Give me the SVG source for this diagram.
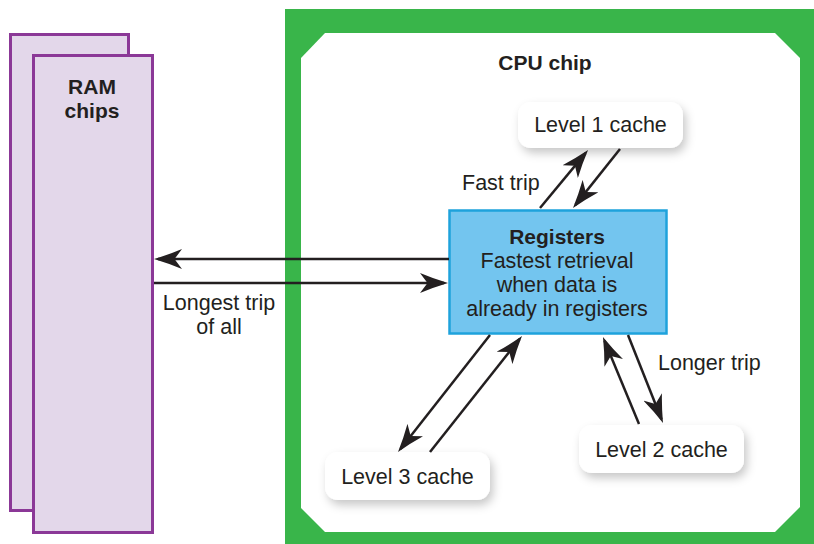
<svg xmlns="http://www.w3.org/2000/svg" width="814" height="544" viewBox="0 0 814 544">
  <style>
    .lbl { font-family: "Liberation Sans", Arial, Helvetica, sans-serif; font-size: 21.5px; fill: #231f20; }
    .bold { font-weight: bold; font-size: 21px; }
    .ram { fill: #e3d7ea; stroke: #8b3897; stroke-width: 3; }
    .cache { fill: #ffffff; filter: url(#soft); }
    .wire { fill: none; stroke: #231f20; stroke-width: 2.5; marker-end: url(#head); }
  </style>
  <defs>
    <filter id="soft" x="-20%" y="-40%" width="150%" height="200%">
      <feDropShadow dx="3" dy="5" stdDeviation="5" flood-color="#000000" flood-opacity="0.22"/>
    </filter>
    <marker id="head" markerUnits="userSpaceOnUse" markerWidth="28" markerHeight="20" viewBox="0 0 28 20" refX="24" refY="10" orient="auto">
      <path d="M28,10 Q13,5.5 0,0 L7.5,10 L0,20 Q13,14.5 28,10 Z" fill="#231f20"/>
    </marker>
  </defs>

  <rect width="814" height="544" fill="#ffffff"/>

  <!-- RAM chips: two stacked modules -->
  <g id="ram">
    <rect class="ram" x="10.5" y="34.5" width="118" height="476"/>
    <rect class="ram" x="33.5" y="55.5" width="119" height="477"/>
    <text class="lbl bold" x="92" y="94" text-anchor="middle">RAM</text>
    <text class="lbl bold" x="92" y="118" text-anchor="middle">chips</text>
  </g>

  <!-- CPU chip outline with chamfered inner field -->
  <g id="cpu">
    <rect x="285" y="9" width="529" height="535" fill="#39b54a"/>
    <polygon points="325,33 775,33 800,58 800,507 775,532 325,532 301,508 301,58" fill="#ffffff"/>
    <text class="lbl bold" x="545" y="70" text-anchor="middle">CPU chip</text>
  </g>

  <g id="l1">
    <rect class="cache" x="518" y="102" width="165" height="46" rx="13"/>
    <text class="lbl" x="600.5" y="132" text-anchor="middle">Level 1 cache</text>
  </g>

  <g id="l2">
    <rect class="cache" x="579" y="425" width="165" height="48" rx="13"/>
    <text class="lbl" x="661.5" y="457" text-anchor="middle">Level 2 cache</text>
  </g>

  <g id="l3">
    <rect class="cache" x="325" y="452" width="165" height="48" rx="13"/>
    <text class="lbl" x="407.5" y="484" text-anchor="middle">Level 3 cache</text>
  </g>

  <g id="registers">
    <rect x="449.5" y="210.5" width="217" height="123" fill="#73c5ef" stroke="#1ea2dc" stroke-width="2.5"/>
    <text class="lbl bold" x="557" y="244" text-anchor="middle">Registers</text>
    <text class="lbl" x="557" y="268" text-anchor="middle">Fastest retrieval</text>
    <text class="lbl" x="557" y="292" text-anchor="middle">when data is</text>
    <text class="lbl" x="557" y="316" text-anchor="middle">already in registers</text>
  </g>

  <!-- data paths between storage levels -->
  <g id="connectors">
    <line class="wire" x1="449" y1="259" x2="158" y2="259"/>
    <line class="wire" x1="154" y1="283" x2="444" y2="283"/>
    <line class="wire" x1="540" y1="208" x2="585.5" y2="153.1"/>
    <line class="wire" x1="620" y1="149" x2="575.5" y2="204.9"/>
    <line class="wire" x1="490" y1="335" x2="400.5" y2="448.9"/>
    <line class="wire" x1="430" y1="452" x2="519.5" y2="339.1"/>
    <line class="wire" x1="639" y1="424" x2="604.5" y2="340.7"/>
    <line class="wire" x1="628" y1="335" x2="661.5" y2="419.3"/>
  </g>

  <g id="trip-labels">
    <text class="lbl" x="462" y="190">Fast trip</text>
    <text class="lbl" x="658" y="370">Longer trip</text>
    <text class="lbl" x="219" y="310" text-anchor="middle">Longest trip</text>
    <text class="lbl" x="219" y="334" text-anchor="middle">of all</text>
  </g>
</svg>
